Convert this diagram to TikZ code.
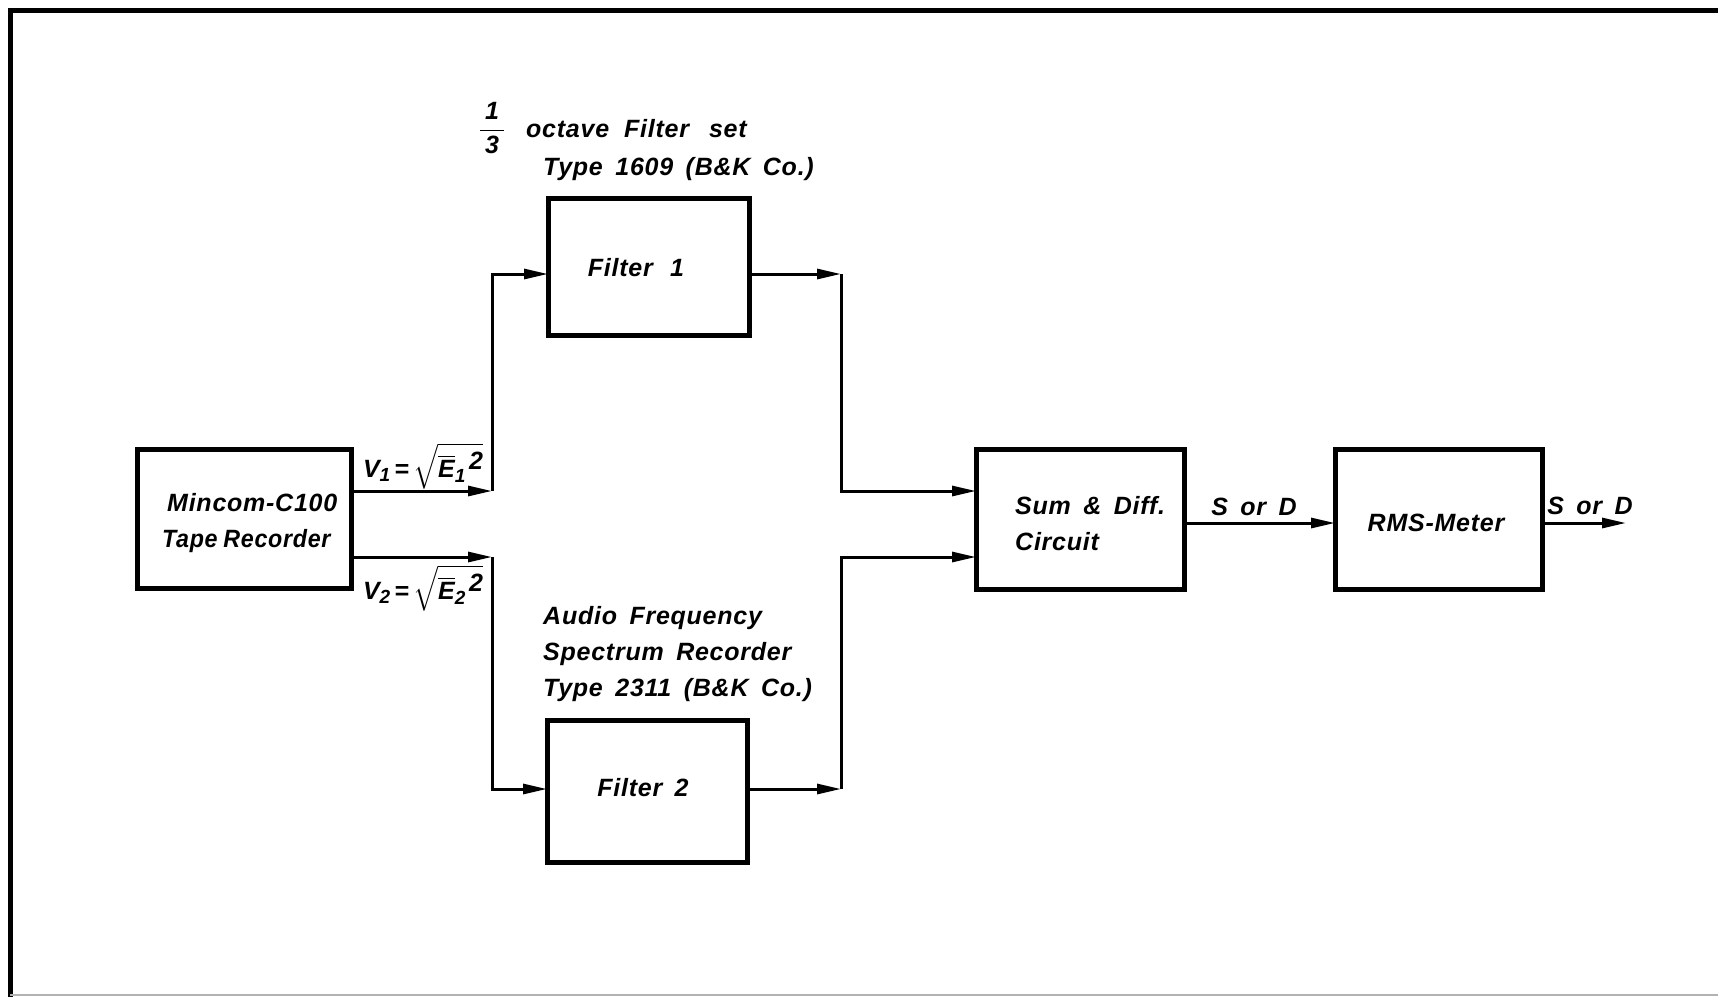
\RequirePackage{fix-cm}
\documentclass[tikz,border=0pt]{standalone}
\usepackage{amsmath}
\usepackage{fontspec}
\setmainfont{Liberation Sans}[LetterSpace=3]
\usetikzlibrary{arrows.meta}
\newcommand{\lettering}{\fontsize{25}{36}\selectfont\bfseries\itshape\spaceskip=0.5em}
\newcommand{\rootlbl}[1]{\text{V\raisebox{-0.35ex}{\fontsize{19}{20}\selectfont #1}}\,\text{=}\,\sqrt{\overline{\text{E}}\text{\raisebox{-0.45ex}{\fontsize{19}{20}\selectfont #1}\hspace{0.15em}\raisebox{0.55ex}{2}}}}
\tikzset{
  box/.style={draw, line width=5pt, inner sep=0pt, outer sep=0pt},
  conn/.style={line width=3pt},
  arr/.style={conn, -{Triangle[length=24pt,width=10pt]}},
  lbl/.style={font=\lettering, inner sep=0pt},
}
\begin{document}
\begin{tikzpicture}[x=1pt,y=-1pt]
\useasboundingbox (0,0) rectangle (1718,997);
\fill[white] (0,0) rectangle (1718,997);
% frame
\draw[line width=5pt] (10,997) -- (10,10) -- (1718,10);
\draw[black!30, line width=1.5pt] (10,995) -- (1718,995);
% boxes
\node[box, minimum width=214, minimum height=139] (mincom) at (244,518.5) {};
\node[box, minimum width=201, minimum height=137] (f1) at (648.5,266.5) {};
\node[box, minimum width=200, minimum height=142] (f2) at (647,791) {};
\node[box, minimum width=208, minimum height=140] (sum) at (1080,519) {};
\node[box, minimum width=207, minimum height=140] (rms) at (1438.5,519) {};
% box texts
\node[lbl, align=left, anchor=west] (mincomtxt) at (162,523) {\hspace{0.2em}Mincom-C100\\\scalebox{0.93}[1]{Tape\hspace{0.25em}Recorder}};
\node[lbl] (f1txt) at (636,268) {Filter\hspace{0.7em}1};
\node[lbl] (f2txt) at (643,788) {Filter\hspace{0.5em}2};
\node[lbl, align=left, anchor=west] (sumtxt) at (1015,524) {Sum \& Diff.\\Circuit};
\node[lbl] (rmstxt) at (1436,523) {RMS-Meter};
% corners
\coordinate (c1) at (492,491);
\coordinate (c2) at (492,557);
\coordinate (c3) at (841,274);
\coordinate (c4) at (841,789);
\coordinate (sy) at (0,523);
\coordinate (out) at (1626,523);
% connectors
\draw[arr] (mincom.east |- c1) -- (c1);
\draw[arr] (mincom.east |- c2) -- (c2);
\draw[arr] (c1) |- (f1.west |- c3);
\draw[arr] (c2) |- (f2.west |- c4);
\draw[arr] (f1.east |- c3) -- (c3);
\draw[arr] (f2.east |- c4) -- (c4);
\draw[arr] (c3) |- (sum.west |- c1);
\draw[arr] (c4) |- (sum.west |- c2);
\draw[arr] (sum.east |- sy) -- (rms.west |- sy);
\draw[arr] (rms.east |- sy) -- (out);
% labels
\node[lbl] (v1) at (423,466) {$\rootlbl{1}$};
\node[lbl] (v2) at (423,588) {$\rootlbl{2}$};
\node[lbl] (frac) at (492,128) {$\dfrac{\hspace{0.2em}\text{1}\hspace{0.2em}}{\hspace{0.2em}\text{3}\hspace{0.2em}}$};
\node[lbl, anchor=west] (oct) at (526,129) {octave\hspace{0.6em}Filter\hspace{0.8em}set};
\node[lbl, anchor=west] (typ1) at (543,169) {Type 1609 (B\&K Co.)};
\node[lbl, anchor=west, align=left] (typ2) at (543,654) {Audio Frequency\\Spectrum Recorder\\Type 2311 (B\&K Co.)};
\node[lbl] (sd1) at (1254,507) {S or D};
\node[lbl] (sd2) at (1590,506) {S or D};
\end{tikzpicture}
\end{document}
